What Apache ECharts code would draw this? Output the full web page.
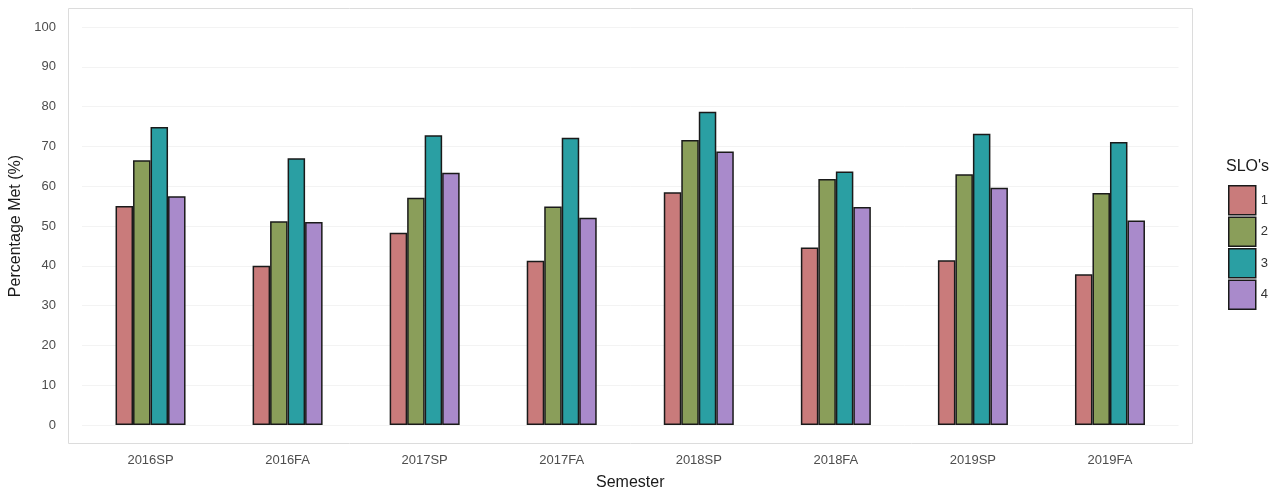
<!DOCTYPE html>
<html><head><meta charset="utf-8">
<script src="https://cdn.jsdelivr.net/npm/echarts@6/dist/echarts.min.js"></script>
<style>html,body{margin:0;padding:0;background:#fff}#c{width:1280px;height:490px}</style>
</head><body><div id="c"></div>
<script>
const semesters = ['2016SP','2016FA','2017SP','2017FA','2018SP','2018FA','2019SP','2019FA'];
const sloNames = ['1','2','3','4'];
const slo1 = [55, 40, 48.3, 41.3, 58.5, 44.6, 41.4, 37.9];
const slo2 = [66.5, 51.2, 57.1, 54.9, 71.6, 61.8, 63, 58.3];
const slo3 = [74.9, 67, 72.8, 72.2, 78.7, 63.7, 73.2, 71.1];
const slo4 = [57.5, 51, 63.4, 52.1, 68.7, 54.8, 59.6, 51.4];
const yTicks = [0,10,20,30,40,50,60,70,80,90,100];
const colors = ['#c97b7b','#8a9e5a','#2a9fa3','#a98acb'];
const seriesData = [slo1, slo2, slo3, slo4];

const chart = echarts.init(document.getElementById('c'), null, {renderer:'canvas'});
const font = 'Liberation Sans, Arial, sans-serif';
chart.setOption({
  animation:false,
  backgroundColor:'#fff',
  title:[{text:"SLO's", left:1221, top:154, textStyle:{fontFamily:font,fontSize:16,fontWeight:'normal',color:'#1a1a1a'}}],
  legend:{orient:'vertical', left:1223, top:180, itemWidth:27, itemHeight:29, itemGap:1,
    icon:'rect', data:sloNames,
    textStyle:{fontFamily:font,fontSize:13,color:'#333',padding:[0,0,0,0]},
    itemStyle:{borderColor:'#1a1a1a',borderWidth:1.5}},
  graphic:[{type:'rect', shape:{x:68.5,y:8.5,width:1124,height:435}, style:{fill:'none',stroke:'#dcdcdc',lineWidth:1}, silent:true, z:-1}],
  grid:{left:82, right:101.5, top:27, bottom:65, containLabel:false, outerBoundsMode:'none'},
  xAxis:{type:'category', data:semesters, boundaryGap:true,
    axisLine:{show:false}, axisTick:{show:false},
    axisLabel:{fontFamily:font,fontSize:13,color:'#4d4d4d',margin:29},
    name:'Semester', nameLocation:'middle', nameGap:50,
    nameTextStyle:{fontFamily:font,fontSize:16,color:'#1a1a1a'}},
  yAxis:{type:'value', min:0, max:100, interval:10,
    axisLine:{show:false}, axisTick:{show:false},
    axisLabel:{fontFamily:font,fontSize:13,color:'#4d4d4d',margin:26},
    splitLine:{show:true,lineStyle:{color:'#f3f3f3',width:1}},
    name:'Percentage Met (%)', nameLocation:'middle', nameGap:37,
    nameTextStyle:{fontFamily:font,fontSize:16,color:'#1a1a1a'}},
  series: sloNames.map((n,i)=>({
    name:n, type:'bar', data:seriesData[i], barWidth:17.5, barGap:'0%',
    itemStyle:{color:colors[i], borderColor:'#1a1a1a', borderWidth:1.5}
  }))
});
</script></body></html>
